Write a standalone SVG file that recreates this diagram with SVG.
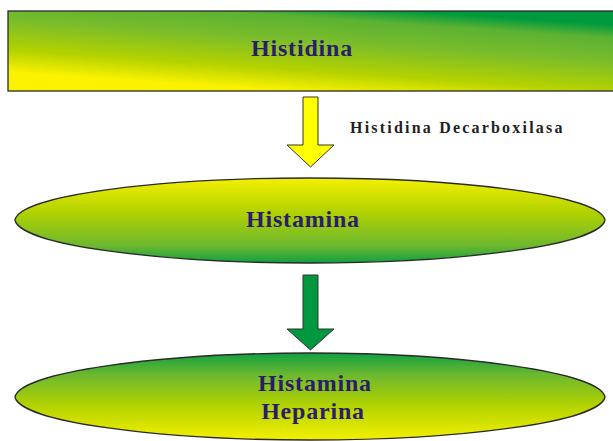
<svg xmlns="http://www.w3.org/2000/svg" width="613" height="441" viewBox="0 0 613 441">
<style>
.node-label{font-family:"Liberation Serif","Times New Roman",serif;font-weight:bold;font-size:24px;fill:#2b1d6b;text-anchor:middle;letter-spacing:0.8px}
.edge-label{font-family:"Liberation Serif","Times New Roman",serif;font-weight:bold;font-size:16px;fill:#231f20;letter-spacing:2.2px}
.shape{stroke:#2a2a2a;stroke-width:1.3}
.arrow{stroke:#333;stroke-width:1}
</style>
<defs>
<linearGradient id="gRect" gradientUnits="userSpaceOnUse" x1="300" y1="92" x2="306" y2="4">
<stop offset="0" stop-color="#fbf200"/>
<stop offset="0.25" stop-color="#b4d200"/>
<stop offset="0.6" stop-color="#78bc2c"/>
<stop offset="0.85" stop-color="#5cb232"/>
<stop offset="1" stop-color="#009a3e"/>
</linearGradient>
<linearGradient id="gEll1" x1="0" y1="0" x2="0" y2="1">
<stop offset="0" stop-color="#f4f000"/>
<stop offset="0.4" stop-color="#b2d200"/>
<stop offset="0.8" stop-color="#6cb830"/>
<stop offset="1" stop-color="#10a040"/>
</linearGradient>
<linearGradient id="gEll2" x1="0" y1="0" x2="0" y2="1">
<stop offset="0" stop-color="#10a040"/>
<stop offset="0.25" stop-color="#6cb830"/>
<stop offset="0.6" stop-color="#b2d200"/>
<stop offset="1" stop-color="#f4f000"/>
</linearGradient>
</defs>
<g id="histidina">
<rect class="shape" x="8" y="11" width="615" height="80" fill="url(#gRect)"/>
<text class="node-label" x="302" y="56">Histidina</text>
</g>
<g id="histamina">
<path class="shape" fill="url(#gEll1)" d="M15,220 C20,195 160,178 310,178 C460,178 600,195 605,220 C600,245 460,263 310,263 C160,263 20,245 15,220 Z"/>
<text class="node-label" x="303" y="227" letter-spacing="1.2">Histamina</text>
</g>
<g id="histamina-heparina">
<path class="shape" fill="url(#gEll2)" d="M15,397 C20,372 160,353 310,353 C460,353 600,372 605,397 C600,422 460,440 310,440 C160,440 20,422 15,397 Z"/>
<text class="node-label" x="315" y="391" letter-spacing="1.2">Histamina</text>
<text class="node-label" x="313" y="419" letter-spacing="1.6">Heparina</text>
</g>
<g id="connectors">
<polygon class="arrow" fill="#ffff00" points="303,97 318,97 318,145 334,145 310.5,167 287,145 303,145"/>
<text class="edge-label" x="350" y="133">Histidina Decarboxilasa</text>
<polygon class="arrow" fill="#00983e" points="303,275 318,275 318,329 334,329 310.5,350 287,329 303,329"/>
</g>
</svg>
